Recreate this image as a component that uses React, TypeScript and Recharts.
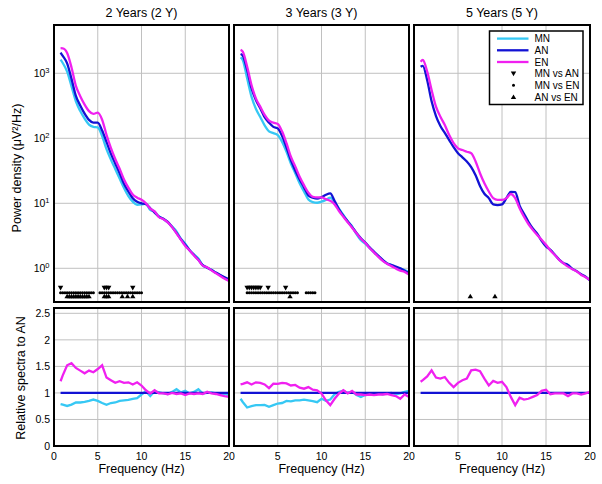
import { ComposedChart, Line, Scatter, XAxis, YAxis, CartesianGrid } from 'recharts';

// frequency bins (Hz)
const freqs = [0.75, 1, 1.5, 2, 2.5, 3, 3.5, 4, 4.5, 5, 5.5, 6, 6.5, 7, 7.5, 8, 8.5, 9, 9.5, 10, 10.5, 11, 11.5, 12, 12.5, 13, 13.5, 14, 14.5, 15, 15.5, 16, 16.5, 17, 17.5, 18, 18.5, 19, 19.5, 20];

// 2 years: power density (uV^2/Hz)
const mn2Y = [1620, 1440, 1060, 630, 370, 262, 200, 162, 150, 147, 108, 68, 47, 33.6, 24, 17.2, 12.9, 10.6, 9.5, 9.6, 9.9, 7.9, 7.4, 6.3, 5.7, 5.1, 4.4, 3.7, 2.85, 2.4, 1.9, 1.63, 1.42, 1.11, 1.02, 0.95, 0.85, 0.78, 0.715, 0.65];
const an2Y = [2080, 1850, 1420, 820, 450, 320, 240, 192, 174, 174, 132, 88, 58, 41, 29, 20, 15.2, 12.0, 10.6, 10.0, 9.7, 8.4, 7.2, 6.2, 5.8, 5.2, 4.3, 3.5, 2.8, 2.3, 1.9, 1.6, 1.35, 1.12, 1.02, 0.94, 0.86, 0.79, 0.73, 0.68];
const en2Y = [2430, 2420, 2050, 1230, 640, 445, 330, 262, 238, 248, 193, 113, 71, 48, 34, 23.3, 17.4, 13.6, 12.2, 11.3, 10.0, 8.3, 7.5, 6.1, 5.7, 5.1, 4.3, 3.45, 2.77, 2.2, 1.88, 1.57, 1.34, 1.10, 1.04, 0.93, 0.84, 0.76, 0.69, 0.64];
// 2 years: relative to AN
const mnRel2Y = [0.79, 0.78, 0.755, 0.78, 0.82, 0.82, 0.83, 0.85, 0.875, 0.85, 0.81, 0.775, 0.81, 0.82, 0.85, 0.86, 0.87, 0.89, 0.9, 0.97, 1.03, 0.94, 1.03, 1.01, 0.99, 0.98, 1.02, 1.07, 1.01, 1.04, 0.99, 1.02, 1.07, 0.99, 1.0, 1.01, 0.99, 0.99, 0.98, 0.96];
const enRel2Y = [1.22, 1.33, 1.52, 1.56, 1.47, 1.42, 1.37, 1.42, 1.39, 1.45, 1.52, 1.29, 1.24, 1.19, 1.22, 1.19, 1.2, 1.16, 1.2, 1.14, 1.05, 0.99, 1.05, 0.99, 0.99, 0.975, 1.0, 0.98, 0.99, 0.96, 0.99, 0.98, 0.99, 0.98, 1.02, 0.99, 0.98, 0.96, 0.94, 0.925];
// 2 years: significant bins
const mnVsAn2Y = [0.75, 5.75, 6.0, 6.25, 9.0];
const mnVsEn2Y = [0.75, 1, 1.25, 1.5, 1.75, 2, 2.25, 2.5, 2.75, 3, 3.25, 3.5, 3.75, 4, 4.25, 4.5, 5.25, 5.5, 5.75, 6, 6.25, 6.5, 6.75, 7, 7.25, 7.5, 7.75, 8, 8.25, 8.5, 8.75, 9, 9.25, 9.5, 9.75, 10];
const anVsEn2Y = [1.5, 1.75, 2, 2.25, 2.5, 2.75, 3, 3.25, 3.5, 3.75, 4, 5.75, 6.0, 6.25, 7.8, 8.4, 9.0];

// 3 years
const mn3Y = [1760, 1600, 838, 438, 285, 212, 158, 128, 120, 112, 88, 62, 41, 29, 20.3, 15.2, 11.4, 10.4, 10.2, 10.6, 11.3, 12.2, 10.5, 8.3, 6.6, 5.25, 4.4, 3.35, 2.7, 2.4, 2.05, 1.75, 1.53, 1.32, 1.18, 1.12, 1.03, 0.99, 0.94, 0.87];
const an3Y = [1980, 1870, 1125, 588, 389, 290, 211, 174, 150, 142, 108, 72, 46, 32, 23.3, 17.6, 13.2, 12.2, 11.8, 12.4, 13.5, 14.2, 10.8, 8.1, 6.4, 5.25, 4.3, 3.5, 2.9, 2.5, 2.1, 1.8, 1.55, 1.35, 1.19, 1.12, 1.06, 1.0, 0.92, 0.84];
const en3Y = [2290, 2150, 1270, 660, 412, 307, 229, 187, 174, 166, 127, 84, 52, 37, 25.6, 19, 14.6, 12.6, 12.3, 12.3, 11.6, 10.9, 9.6, 7.6, 6.2, 5.1, 4.2, 3.45, 2.85, 2.45, 2.05, 1.75, 1.5, 1.3, 1.17, 1.08, 0.99, 0.92, 0.88, 0.8];
const mnRel3Y = [0.89, 0.83, 0.725, 0.75, 0.77, 0.77, 0.775, 0.74, 0.77, 0.8, 0.81, 0.85, 0.84, 0.86, 0.86, 0.875, 0.86, 0.845, 0.825, 0.89, 0.85, 0.875, 0.975, 1.02, 1.04, 1.0, 1.02, 0.96, 0.925, 0.96, 0.975, 0.975, 0.99, 0.975, 0.99, 1.0, 0.975, 0.99, 1.02, 1.04];
const enRel3Y = [1.16, 1.17, 1.2, 1.16, 1.2, 1.19, 1.16, 1.09, 1.175, 1.17, 1.19, 1.18, 1.14, 1.15, 1.1, 1.08, 1.11, 1.06, 1.05, 0.99, 0.86, 0.77, 0.89, 0.99, 1.05, 0.99, 1.04, 0.97, 0.97, 0.96, 0.97, 0.96, 0.97, 0.97, 0.98, 0.96, 0.94, 0.89, 0.97, 0.925];
const mnVsAn3Y = [1.5, 1.75, 2, 2.25, 2.5, 2.75, 3.0, 3.9, 5.9];
const mnVsEn3Y = [1.5, 1.75, 2, 2.25, 2.5, 2.75, 3, 3.25, 3.5, 3.75, 4, 4.25, 4.5, 4.75, 5, 5.25, 5.5, 5.75, 6, 6.25, 6.5, 6.75, 7, 7.25, 8.25, 8.5, 8.75, 9.0, 9.25];
const anVsEn3Y = [6.4];

// 5 years (no MN group)
const an5Y = [1260, 1300, 780, 370, 220, 155, 121, 94, 73, 59, 51, 44, 36, 27, 18.5, 14, 12, 9.6, 9.4, 9.6, 12, 15, 14.8, 9.2, 6.9, 5.2, 4.1, 3.4, 2.65, 2.17, 1.92, 1.62, 1.36, 1.2, 1.13, 0.98, 0.9, 0.81, 0.74, 0.65];
const en5Y = [1510, 1600, 1060, 554, 307, 215, 160, 112, 84, 70, 66, 62, 59, 44, 29, 20.3, 15.2, 12, 11.3, 11.3, 12, 13.9, 12, 8.4, 6.2, 4.8, 3.9, 3.25, 2.75, 2.3, 1.87, 1.6, 1.35, 1.19, 1.06, 0.97, 0.89, 0.79, 0.73, 0.66];
const enRel5Y = [1.21, 1.24, 1.31, 1.425, 1.29, 1.27, 1.3, 1.19, 1.11, 1.19, 1.24, 1.27, 1.425, 1.44, 1.41, 1.27, 1.14, 1.225, 1.19, 1.21, 1.11, 0.925, 0.77, 0.91, 0.875, 0.89, 0.925, 0.96, 1.04, 1.06, 0.975, 0.99, 0.99, 0.99, 0.94, 0.99, 0.99, 0.97, 0.99, 1.02];
const anVsEn5Y = [6.4, 9.2];

const AN_REL = 1;
const MARK_Y_DOWN = 0.5;
const MARK_Y_DOT = 0.42;
const MARK_Y_UP = 0.37;

const panelTitles = ['2 Years (2 Y)', '3 Years (3 Y)', '5 Years (5 Y)'];
const legendSeries = ['MN', 'AN', 'EN'];
const legendMarks = ['MN vs AN', 'MN vs EN', 'AN vs EN'];

const freqTicks = [0, 5, 10, 15, 20];
const innerFreqTicks = [5, 10, 15];
const powerTicks = [1, 10, 100, 1000];
const powerMinor = [0.4, 0.5, 0.6, 0.7, 0.8, 0.9, 2, 3, 4, 5, 6, 7, 8, 9, 20, 30, 40, 50, 60, 70, 80, 90, 200, 300, 400, 500, 600, 700, 800, 900, 2000, 3000, 4000, 5000];
const relTicks = [0, 0.5, 1, 1.5, 2, 2.5];

const FONT = '"Liberation Sans", Arial, Helvetica, sans-serif';
const MN_COLOR = '#36c8f4';
const AN_COLOR = '#1212d4';
const EN_COLOR = '#f020f0';
const GRID = '#c0c0c0';
const LINE_W = 2.3;

const COL_LEFT = [54, 234, 414];
const COL_W = [175, 175, 176];
const TOP_Y = 25;
const TOP_H = 277;
const BOT_Y = 308;
const BOT_H = 138;
const PAD_L = 40;
const PAD_R = 6;
const PAD_T = 6;
const PAD_B = 26;
const POWER_DOMAIN = [0.303, 5530];
const REL_DOMAIN = [0, 2.6];

const buildRows = (mn: number[] | null, an: number[], en: number[], mnR: number[] | null, enR: number[]) =>
  freqs.map((f, i) => ({
    f,
    mn: mn ? mn[i] : undefined,
    an: an[i],
    en: en[i],
    mnR: mnR ? mnR[i] : undefined,
    anR: AN_REL,
    enR: enR[i],
  }));

const panels = [
  { rows: buildRows(mn2Y, an2Y, en2Y, mnRel2Y, enRel2Y), hasMn: true, down: mnVsAn2Y, dot: mnVsEn2Y, up: anVsEn2Y },
  { rows: buildRows(mn3Y, an3Y, en3Y, mnRel3Y, enRel3Y), hasMn: true, down: mnVsAn3Y, dot: mnVsEn3Y, up: anVsEn3Y },
  { rows: buildRows(null, an5Y, en5Y, null, enRel5Y), hasMn: false, down: [], dot: [], up: anVsEn5Y },
];

const downTri = (p: any) => (
  <path d={`M${p.cx - 2.7},${p.cy - 2} L${p.cx + 2.7},${p.cy - 2} L${p.cx},${p.cy + 2.6} Z`} fill="#000" />
);
const upTri = (p: any) => (
  <path d={`M${p.cx - 2.7},${p.cy + 2} L${p.cx + 2.7},${p.cy + 2} L${p.cx},${p.cy - 2.6} Z`} fill="#000" />
);
const dotMark = (p: any) => <circle cx={p.cx} cy={p.cy} r={1.5} fill="#000" />;

const freqTick = (p: any, show: boolean, col: number) => {
  if (!show || (col > 0 && p.payload.value === 0)) return <g />;
  return (
    <text x={p.x} y={p.y} dy={13.5} textAnchor="middle" fontFamily={FONT} fontSize={10.5} fill="#000">
      {p.payload.value}
    </text>
  );
};

const powerTick = (p: any) => (
  <text x={p.x - 4.5} y={p.y} dy={3.8} textAnchor="end" fontFamily={FONT} fontSize={10.5} fill="#000">
    10
    <tspan dy={-4.5} fontSize={7.5}>
      {Math.round(Math.log10(p.payload.value))}
    </tspan>
  </text>
);

const relTick = (p: any) => (
  <text x={p.x - 4} y={p.y} dy={3.7} textAnchor="end" fontFamily={FONT} fontSize={10.5} fill="#000">
    {p.payload.value}
  </text>
);

function Panel({ col, kind }: { col: number; kind: 'power' | 'rel' }) {
  const panel = panels[col];
  const power = kind === 'power';
  const top = power ? TOP_Y : BOT_Y;
  const h = power ? TOP_H : BOT_H;
  const w = COL_W[col];
  const yProps: any = {
    type: 'number',
    scale: power ? 'log' : 'linear',
    domain: power ? POWER_DOMAIN : REL_DOMAIN,
    allowDataOverflow: true,
    interval: 0,
  };
  const majorY = power ? powerTicks : relTicks;
  const border: any = { stroke: '#000', strokeWidth: 2, strokeLinecap: 'square' };
  const tickLn = { stroke: '#000', strokeWidth: 1 };
  const lineType = power ? 'monotone' : 'linear';

  return (
    <div style={{ position: 'absolute', left: COL_LEFT[col] - PAD_L, top: top - PAD_T }}>
      <ComposedChart
        width={PAD_L + w + PAD_R}
        height={PAD_T + h + PAD_B}
        data={panel.rows}
        margin={{ top: PAD_T, right: PAD_R, bottom: 0, left: 0 }}
      >
        <CartesianGrid stroke={GRID} strokeWidth={1} />
        <XAxis
          type="number"
          dataKey="f"
          domain={[0, 20]}
          allowDataOverflow
          ticks={freqTicks}
          interval={0}
          height={PAD_B}
          axisLine={false}
          tickLine={false}
          tickSize={0}
          tickMargin={0}
          tick={(p: any) => freqTick(p, !power, col)}
        />
        <YAxis
          {...yProps}
          ticks={majorY}
          width={PAD_L}
          axisLine={false}
          tickLine={false}
          tickSize={0}
          tickMargin={0}
          tick={(p: any) => (col === 0 ? (power ? powerTick(p) : relTick(p)) : <g />)}
        />
        <XAxis xAxisId="xb" type="number" domain={[0, 20]} allowDataOverflow orientation="bottom" mirror ticks={innerFreqTicks} interval={0} axisLine={border} tickLine={tickLn} tickSize={4} tick={false} />
        <XAxis xAxisId="xt" type="number" domain={[0, 20]} allowDataOverflow orientation="top" mirror ticks={innerFreqTicks} interval={0} axisLine={border} tickLine={tickLn} tickSize={4} tick={false} />
        <YAxis yAxisId="yl" {...yProps} orientation="left" mirror ticks={majorY} axisLine={border} tickLine={tickLn} tickSize={4} tick={false} />
        <YAxis yAxisId="yr" {...yProps} orientation="right" mirror ticks={majorY} axisLine={border} tickLine={tickLn} tickSize={4} tick={false} />
        {power && <YAxis yAxisId="ylm" {...yProps} orientation="left" mirror ticks={powerMinor} axisLine={false} tickLine={tickLn} tickSize={2} tick={false} />}
        {power && <YAxis yAxisId="yrm" {...yProps} orientation="right" mirror ticks={powerMinor} axisLine={false} tickLine={tickLn} tickSize={2} tick={false} />}

        {panel.hasMn && (
          <Line type={lineType} dataKey={power ? 'mn' : 'mnR'} stroke={MN_COLOR} strokeWidth={LINE_W} dot={false} isAnimationActive={false} />
        )}
        <Line type={lineType} dataKey={power ? 'an' : 'anR'} stroke={AN_COLOR} strokeWidth={LINE_W} dot={false} isAnimationActive={false} />
        <Line type={lineType} dataKey={power ? 'en' : 'enR'} stroke={EN_COLOR} strokeWidth={LINE_W} dot={false} isAnimationActive={false} />

        {power && panel.down.length > 0 && (
          <Scatter data={panel.down.map((f) => ({ f, y: MARK_Y_DOWN }))} dataKey="y" shape={downTri} isAnimationActive={false} />
        )}
        {power && panel.dot.length > 0 && (
          <Scatter data={panel.dot.map((f) => ({ f, y: MARK_Y_DOT }))} dataKey="y" shape={dotMark} isAnimationActive={false} />
        )}
        {power && panel.up.length > 0 && (
          <Scatter data={panel.up.map((f) => ({ f, y: MARK_Y_UP }))} dataKey="y" shape={upTri} isAnimationActive={false} />
        )}
      </ComposedChart>
    </div>
  );
}

function LegendBox() {
  const colors = [MN_COLOR, AN_COLOR, EN_COLOR];
  const shapes = [downTri, dotMark, upTri];
  const rowY = [7.6, 19.3, 31, 42.6, 54.3, 66];
  return (
    <g transform="translate(489.5,31)">
      <rect x={0} y={0} width={93.5} height={73.5} fill="#fff" stroke="#000" strokeWidth={1.5} />
      {legendSeries.map((s, i) => (
        <g key={s}>
          <line x1={7.5} x2={39} y1={rowY[i]} y2={rowY[i]} stroke={colors[i]} strokeWidth={LINE_W} />
          <text x={45} y={rowY[i]} dy={3.6} fontSize={10} fontFamily={FONT}>{s}</text>
        </g>
      ))}
      {legendMarks.map((s, i) => (
        <g key={s}>
          {shapes[i]({ cx: 24, cy: rowY[i + 3] })}
          <text x={45} y={rowY[i + 3]} dy={3.6} fontSize={10} fontFamily={FONT}>{s}</text>
        </g>
      ))}
    </g>
  );
}

export default function App() {
  return (
    <div style={{ position: 'absolute', left: 0, top: 0, width: 602, height: 484, background: '#fff', overflow: 'hidden' }}>
      {[0, 1, 2].map((c) => (
        <Panel key={`p${c}`} col={c} kind="power" />
      ))}
      {[0, 1, 2].map((c) => (
        <Panel key={`r${c}`} col={c} kind="rel" />
      ))}
      <svg width={602} height={484} style={{ position: 'absolute', left: 0, top: 0, pointerEvents: 'none' }}>
        {panelTitles.map((t, i) => (
          <text key={t} x={COL_LEFT[i] + COL_W[i] / 2} y={17} textAnchor="middle" fontSize={12.5} fontFamily={FONT}>
            {t}
          </text>
        ))}
        {panelTitles.map((t, i) => (
          <text key={`fx${t}`} x={COL_LEFT[i] + COL_W[i] / 2} y={473} textAnchor="middle" fontSize={12.5} fontFamily={FONT}>
            Frequency (Hz)
          </text>
        ))}
        <text transform="translate(21,168) rotate(-90)" textAnchor="middle" fontSize={12.5} fontFamily={FONT}>
          Power density (μV²/Hz)
        </text>
        <text transform="translate(25,378) rotate(-90)" textAnchor="middle" fontSize={12.5} fontFamily={FONT}>
          Relative spectra to AN
        </text>
        <LegendBox />
      </svg>
    </div>
  );
}
